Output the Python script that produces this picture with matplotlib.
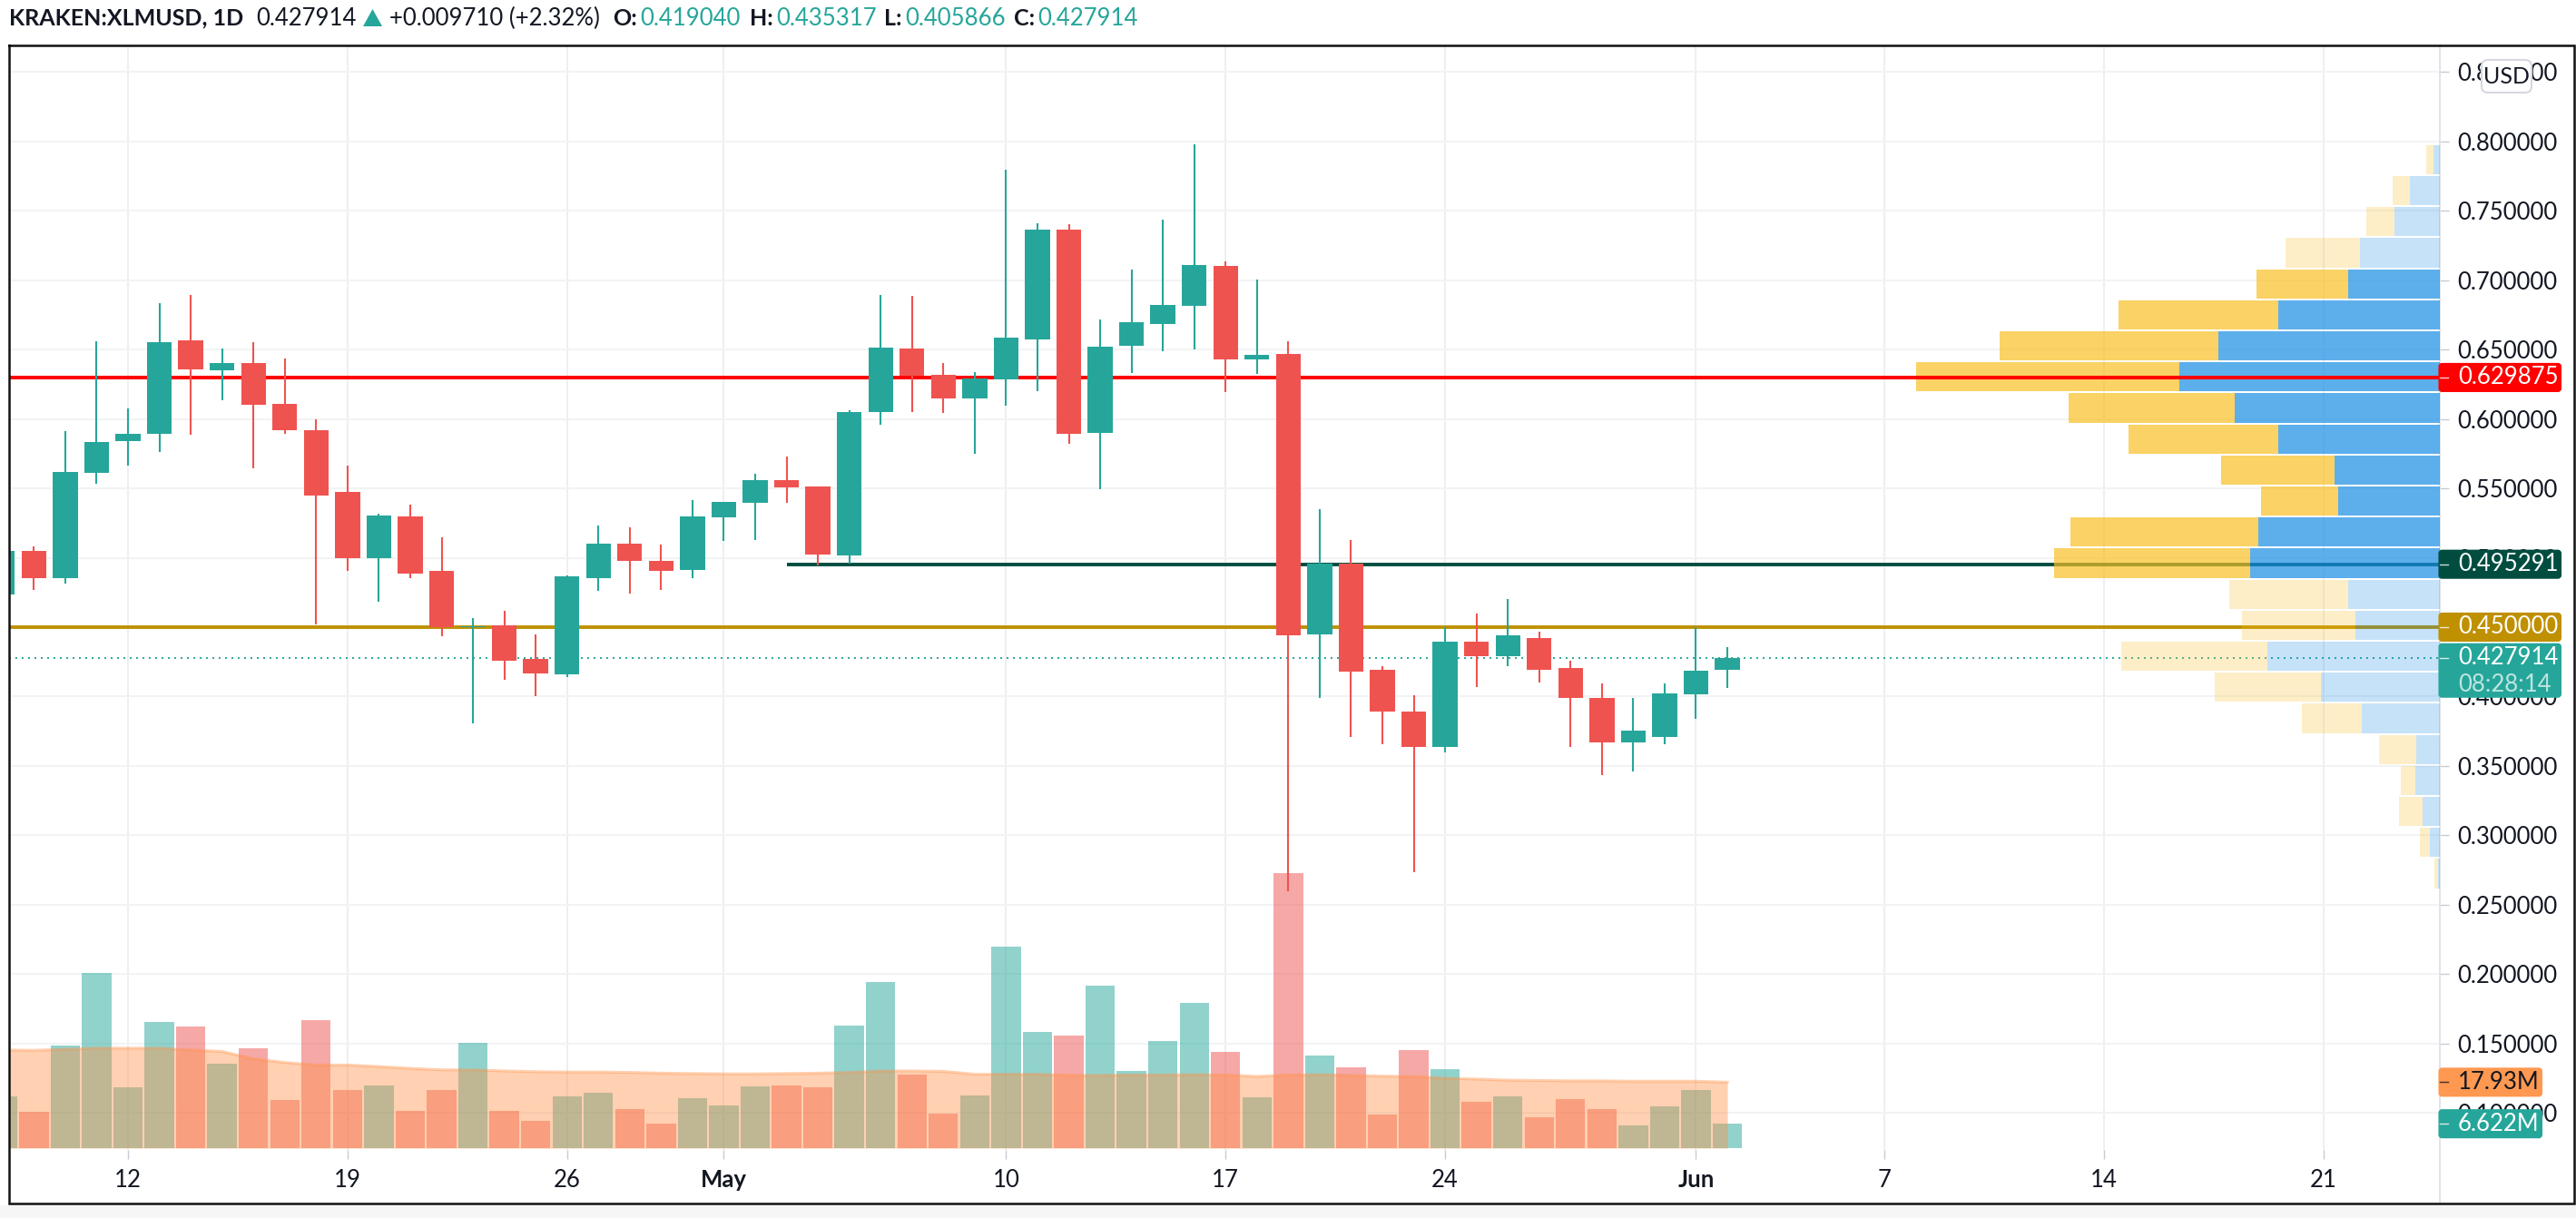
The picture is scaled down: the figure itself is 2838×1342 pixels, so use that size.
import matplotlib
matplotlib.use("Agg")
import matplotlib.pyplot as plt
from matplotlib.patches import FancyBboxPatch, Rectangle, Polygon

plt.rcParams['font.family'] = ['Lato', 'DejaVu Sans']

# ---------- data ----------
days = list(range(-4, 52))
opens = [.4733,.5049,.4851,.5612,.5840,.5895,.6566,.6353,.6406,.6109,.5921,.5472,.4997,.5299,.4905,.4498,.4511,.4269,.4158,.4851,.5099,.4975,.4912,.5293,.5398,.5561,.5513,.5016,.6050,.6510,.6318,.6146,.6285,.6574,.7362,.5902,.6525,.6683,.6818,.7103,.6428,.6469,.4445,.4956,.4190,.3889,.3634,.4396,.4291,.4422,.4205,.3987,.3668,.3710,.4017,.41904]
highs = [.5080,.5080,.5915,.6560,.6076,.6835,.6896,.6505,.6552,.6436,.5997,.5667,.5317,.5384,.5147,.4565,.4616,.4447,.4870,.5230,.5217,.5093,.5417,.5402,.5603,.5729,.5513,.6064,.6896,.6886,.6405,.6337,.7798,.7411,.7404,.6717,.7077,.7438,.7978,.7133,.7002,.6559,.5347,.5129,.4217,.4010,.4498,.4599,.4700,.4468,.4258,.4092,.3987,.4092,.4498,.435317]
lows = [.4600,.4766,.4816,.5535,.5661,.5763,.5889,.6137,.5647,.5895,.4519,.4905,.4683,.4851,.4434,.3804,.4122,.4005,.4142,.4761,.4740,.4766,.4851,.5121,.5128,.5398,.4946,.4960,.5959,.6048,.6041,.5749,.6094,.6199,.5823,.5493,.6330,.6491,.6499,.6195,.6322,.2594,.3987,.3710,.3653,.2734,.3597,.4066,.4217,.4103,.3638,.3436,.3458,.3653,.3841,.405866]
closes = [.5049,.4851,.5618,.5837,.5893,.6553,.6359,.6400,.6099,.5919,.5448,.4997,.5305,.4884,.4498,.4508,.4256,.4164,.4864,.5099,.4975,.4905,.5300,.5402,.5561,.5509,.5023,.6052,.6517,.6311,.6150,.6292,.6585,.7362,.5895,.6518,.6698,.6822,.7111,.6428,.6462,.4441,.4956,.4179,.3889,.3638,.4396,.4291,.4441,.4190,.3987,.3668,.3755,.4025,.4183,.427914]

volumes = [14.07,9.88,27.9,47.7,16.46,34.2,33.1,23.0,27.1,13.0,34.7,15.9,17.0,10.1,15.9,28.6,10.1,7.5,14.1,15.1,10.6,6.75,13.6,11.7,16.7,17.0,16.5,33.3,45.3,20.0,9.4,14.3,54.8,31.5,30.5,44.1,21.1,29.1,39.4,26.1,13.8,74.7,25.3,21.9,9.1,26.6,21.6,12.5,14.1,8.3,13.3,10.6,6.2,11.4,15.9,6.622]
volume_up = [True,False,True,True,True,True,False,True,False,False,False,False,True,False,False,True,False,False,True,True,False,False,True,True,True,False,False,True,True,False,False,True,True,True,False,True,True,True,True,False,True,False,True,False,False,False,True,False,True,False,False,False,True,True,True,True]
volume_ma = [26.7,26.6,26.9,27.2,27.2,27.2,26.7,26.3,24.3,23.3,22.6,22.6,22.2,21.7,21.3,21.3,21.0,20.8,20.7,20.7,20.6,20.4,20.3,20.2,20.2,20.3,20.4,20.6,21.0,21.0,20.9,20.1,20.1,20.1,19.8,19.8,19.9,19.9,20.0,19.9,19.5,19.9,20.0,19.8,19.6,19.5,19.0,18.8,18.5,18.4,18.3,18.3,18.2,18.2,18.2,17.93]

profile_price = [.7868,.7644,.7421,.7197,.6973,.6750,.6526,.6303,.6079,.5855,.5632,.5408,.5184,.4961,.4737,.4514,.4290,.4066,.3843,.3619,.3395,.3172,.2948,.2724]
profile_up = [7,32.7,49.3,87.4,100.8,178,244,287,226,178,116,112,200,209,101,92.7,190,131,86,26,27,19,11,2]
profile_down = [7.5,18.8,31.6,82,101,176,241,290,183,165,125,85,207,216,131,125,161,117,66,41,15.5,26,11,4]
profile_in_area = [False]*4 + [True]*10 + [False]*10

price_ticks = [.10,.15,.20,.25,.30,.35,.40,.45,.50,.55,.60,.65,.70,.75,.80,.85]
date_ticks = [0,7,14,19,28,35,42,50,56,63,70]
date_labels = ['12','19','26','May','10','17','24','Jun','7','14','21']
month_labels = ['May','Jun']

level_red = 0.629875
level_dark = 0.495291
level_gold = 0.45
last_price = 0.427914
dark_start_day = 21

UP = '#26A69A'; DOWN = '#EF5350'; INK = '#131722'
W, H = 2838, 1342
L, R, T, B = 9.6, 2687.5, 50, 1267
PX_DAY = 34.55

fig = plt.figure(figsize=(W/100, H/100), dpi=100, facecolor='white')
rect = [L/W, 1-B/H, (R-L)/W, (B-T)/H]

ax = fig.add_axes(rect, zorder=1)
ax.set_xlim(-(141-L)/PX_DAY, (R-141)/PX_DAY)
ax.set_ylim(0.8-(B-155.8)/1529, 0.8+(155.8-T)/1529)
for s in ('top','left','bottom'):
    ax.spines[s].set_visible(False)
ax.spines['right'].set_color('#E0E3EB'); ax.spines['right'].set_linewidth(1.4)
ax.yaxis.tick_right()
ax.set_yticks(price_ticks, [f'{p:.6f}' for p in price_ticks])
ax.set_xticks(date_ticks, date_labels)
ax.tick_params(axis='y', length=7, width=1.0, color='#C8CBD3', pad=7.5, labelsize=18.5, labelcolor=INK)
ax.tick_params(axis='x', length=7, width=1.0, color='#C8CBD3', pad=8, labelsize=18.5, labelcolor=INK)
for t in ax.get_xticklabels():
    if t.get_text() in month_labels:
        t.set_fontweight('bold')
ax.set_axisbelow(True)
ax.grid(axis='y', color='#F2F3F5', lw=1.5)
ax.grid(axis='x', color='#E9EBEF', lw=1.1)

# volume pane
axv = fig.add_axes(rect, zorder=2, sharex=ax, frameon=False)
axv.set_ylim(-2/4.05, (1265-T)/4.05)
axv.axis('off')
axv.bar(days, volumes, width=0.935, color=[UP if u else DOWN for u in volume_up], alpha=0.5, lw=0)
axv.fill_between(days, 0, volume_ma, color='#FF9146', alpha=0.42, lw=0)
axv.plot(days, volume_ma, color='#FF9146', alpha=0.42, lw=2.2)

# price pane
axc = fig.add_axes(rect, zorder=3, sharex=ax, sharey=ax, frameon=False)
axc.axis('off')
axc.axhline(level_red, color='#FF0000', lw=2.9)
axc.hlines(level_dark, dark_start_day, ax.get_xlim()[1], color='#004D40', lw=2.8)
axc.axhline(level_gold, color='#BF9000', lw=2.8)
axc.axhline(last_price, color=UP, lw=1.4, ls=(0, (1, 2.6)))
for d, o, h, l, c in zip(days, opens, highs, lows, closes):
    col = UP if c >= o else DOWN
    axc.vlines(d, l, h, color=col, lw=1.5, zorder=4)
    axc.bar(d, abs(c-o), bottom=min(o, c), width=0.793, color=col, lw=0, zorder=5)

# volume profile
axp = fig.add_axes(rect, zorder=4, sharey=ax, frameon=False)
axp.set_xlim(R-L, 0)
axp.axis('off')
for y, u, dn, area in zip(profile_price, profile_up, profile_down, profile_in_area):
    a = 0.7 if area else 0.25
    axp.barh(y, u, height=0.0211, color='#188EE4', alpha=a, lw=0)
    axp.barh(y, dn, left=u, height=0.0211, color='#F8BF24', alpha=a, lw=0)
axp.hlines(level_red, 0, max(u+d for u, d in zip(profile_up, profile_down)), color='#FF0000', lw=2.9)

# overlay in pixel coordinates, y down
ov = fig.add_axes([0, 0, 1, 1], zorder=10, frameon=False)
ov.set_xlim(0, W); ov.set_ylim(H, 0); ov.axis('off')
ov.add_patch(Rectangle((0, 1328), W, H-1328, color='#F6F6F6', lw=0))
ov.plot([R, R], [B, 1326], color='#E0E3EB', lw=1.4)
ov.plot([L, 2836, 2836, L, L], [T, T, 1326, 1326, T], color='#111111', lw=1.8, solid_joinstyle='miter')

def y_of(v):
    return H - ax.transData.transform((0, v))[1]

def box(x0, x1, y0, y1, col, ec=None):
    ov.add_patch(FancyBboxPatch((x0, y0+3), x1-x0-3, y1-y0-6,
                 boxstyle='round,pad=0,rounding_size=3', mutation_aspect=1,
                 fc=col, ec=ec or col, lw=1.5))

def tag(v, col, text, tc='white', x1=2824, half=18):
    y = y_of(v)
    box(R, x1, y-half, y+half, col)
    ov.plot([R, 2697], [y, y], color=tc, lw=1, alpha=.8)
    ov.text(2708, y, text, color=tc, fontsize=18.5, va='center', ha='left')

tag(level_red, '#FF0000', f'{level_red:.6f}')
tag(level_dark, '#004D40', f'{level_dark:.6f}')
tag(level_gold, '#BF9000', f'{level_gold:.6f}')
y = y_of(last_price)
box(R, 2824, y-18, y+46, UP)
ov.plot([R, 2697], [y, y], color='white', lw=1, alpha=.8)
ov.text(2708, y, f'{last_price:.6f}', color='white', fontsize=18.5, va='center')
ov.text(2708, y+30, '08:28:14', color='#BEE5E1', fontsize=18.5, va='center')

def vol_tag(v, col, text, tc):
    yy = H - axv.transData.transform((0, v))[1]
    box(R, 2803, yy-18, yy+18, col)
    ov.plot([R, 2697], [yy, yy], color=tc, lw=1, alpha=.8)
    ov.text(2708, yy, text, color=tc, fontsize=18.5, va='center')
vol_tag(volume_ma[-1], '#FF9850', f'{volume_ma[-1]:.2f}M', INK)
vol_tag(volumes[-1], UP, f'{volumes[-1]:.3f}M', 'white')

ov.add_patch(FancyBboxPatch((2734, 66), 55, 36, boxstyle='round,pad=0,rounding_size=7',
             fc='white', ec='#D5D8E0', lw=1.5))
ov.text(2761, 84, 'USD', color=INK, fontsize=18, ha='center', va='center')

# header
HY = 20
def head(x, s, col=INK, bold=False):
    ov.text(x, HY, s, color=col, fontsize=18 if bold else 18.5, va='center', ha='left',
            fontweight='bold' if bold else 'normal')
head(10, 'KRAKEN:XLMUSD, 1D', bold=True)
head(282, f'{closes[-1]:.6f}')
ov.add_patch(Polygon([(400, 29), (421, 29), (410.5, 10)], color=UP, lw=0))
head(429, '+0.009710 (+2.32%)')
head(675, 'O:', bold=True); head(705, f'{opens[-1]:.6f}', UP)
head(826, 'H:', bold=True); head(855, f'{highs[-1]:.6f}', UP)
head(974, 'L:', bold=True); head(997, f'{lows[-1]:.6f}', UP)
head(1117, 'C:', bold=True); head(1143, f'{closes[-1]:.6f}', UP)

fig.savefig('out.png', dpi=100, facecolor='white')
